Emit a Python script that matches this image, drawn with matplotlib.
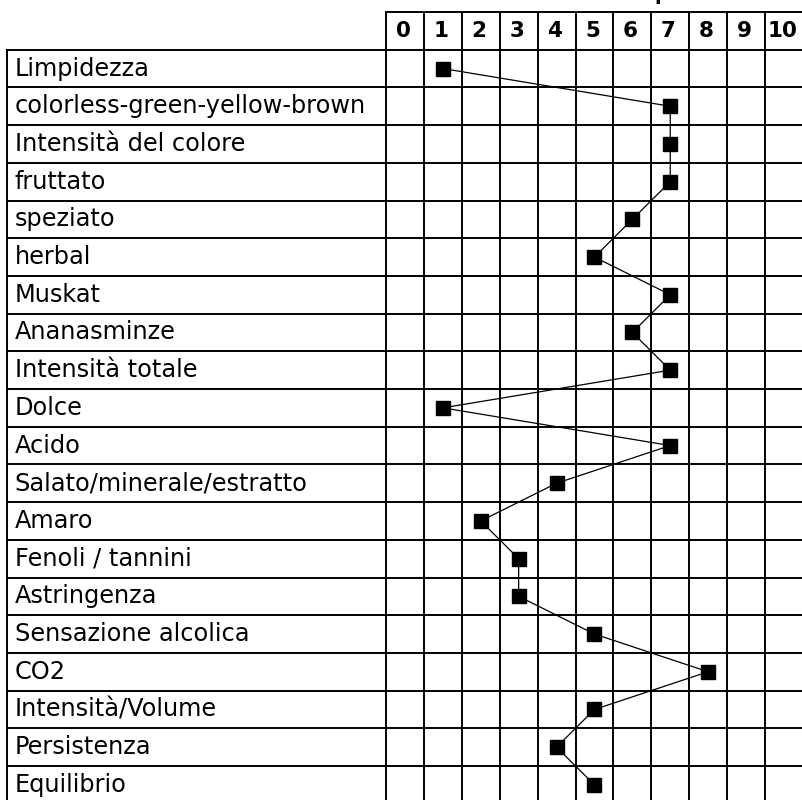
import matplotlib
matplotlib.use("Agg")
import matplotlib.pyplot as plt

categories = ["Limpidezza", "colorless-green-yellow-brown", "Intensità del colore",
              "fruttato", "speziato", "herbal", "Muskat", "Ananasminze",
              "Intensità totale", "Dolce", "Acido", "Salato/minerale/estratto",
              "Amaro", "Fenoli / tannini", "Astringenza", "Sensazione alcolica",
              "CO2", "Intensità/Volume", "Persistenza", "Equilibrio"]
values = [1, 7, 7, 7, 6, 5, 7, 6, 7, 1, 7, 4, 2, 3, 3, 5, 8, 5, 4, 5]
scale_labels = [str(i) for i in range(11)]

W, H = 802, 800
fig = plt.figure(figsize=(W / 100, H / 100), dpi=100)
colw, rowh = 37.9, 37.7
x0, y0 = 386, 12
ncols = len(scale_labels)
nrows = len(categories) + 1
ax = fig.add_axes([x0 / W, (H - (y0 + nrows * rowh)) / H, ncols * colw / W, nrows * rowh / H])
ax.set_xlim(-0.5, ncols - 0.5)
ax.set_ylim(len(categories) - 0.5, -1.5)
ax.axis("off")

lw = 1.4
n = len(categories)
left = -10.5
# horizontal lines
for k in range(n + 1):
    y = k - 0.5
    ax.plot([left, ncols - 0.5], [y, y], color="black", lw=lw, clip_on=False, solid_capstyle="projecting")
ax.plot([-0.5, ncols - 0.5], [-1.5, -1.5], color="black", lw=lw, clip_on=False, solid_capstyle="projecting")
# vertical lines
for c in range(ncols + 1):
    x = c - 0.5
    ax.plot([x, x], [-1.5, n - 0.5], color="black", lw=lw, clip_on=False, solid_capstyle="projecting")
ax.plot([left, left], [-0.5, n - 0.5], color="black", lw=lw, clip_on=False, solid_capstyle="projecting")

for i, lab in enumerate(scale_labels):
    ax.text(i - 0.05, -1, lab, ha="center", va="center", fontsize=15.5, fontweight="bold", clip_on=False)

for i, cat in enumerate(categories):
    ax.text(left + 0.2, i, cat, ha="left", va="center", fontsize=17.3, clip_on=False)

ax.plot(values, range(n), color="black", lw=0.9, marker="s", markersize=10,
        markerfacecolor="black", markeredgecolor="black", clip_on=False, zorder=5)

fig.text(654 / W, 1.0 - 0.5 / H, "punti", ha="left", va="baseline", fontsize=14, fontweight="bold")

fig.savefig("out.png", dpi=100)
